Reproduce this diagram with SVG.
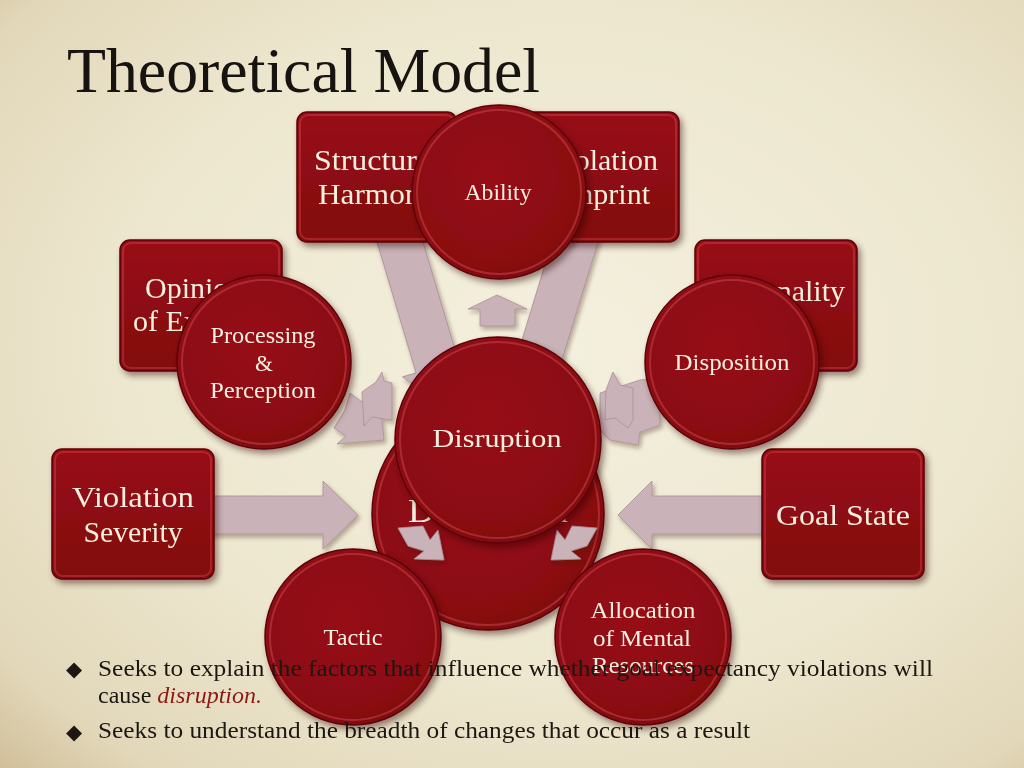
<svg xmlns="http://www.w3.org/2000/svg" width="1024" height="768" viewBox="0 0 1024 768">
<defs>
  <radialGradient id="bg" cx="0.55" cy="0.45" r="0.8">
    <stop offset="0" stop-color="#f4f0de"/>
    <stop offset="0.55" stop-color="#ede7cf"/>
    <stop offset="0.85" stop-color="#e2d7b9"/>
    <stop offset="1" stop-color="#cdb992"/>
  </radialGradient>
  <linearGradient id="boxg" x1="0" y1="0" x2="0" y2="1">
    <stop offset="0" stop-color="#980f15"/>
    <stop offset="1" stop-color="#820a0f"/>
  </linearGradient>
  <radialGradient id="circg" cx="0.45" cy="0.4" r="0.65">
    <stop offset="0" stop-color="#970f15"/>
    <stop offset="0.8" stop-color="#8a0c11"/>
    <stop offset="1" stop-color="#76090d"/>
  </radialGradient>
  <filter id="sh" x="-20%" y="-20%" width="140%" height="140%">
    <feDropShadow dx="3" dy="4" stdDeviation="3" flood-color="#2a1005" flood-opacity="0.45"/>
  </filter>
  <filter id="ash" x="-20%" y="-20%" width="140%" height="140%">
    <feDropShadow dx="2" dy="3" stdDeviation="2" flood-color="#3a2010" flood-opacity="0.35"/>
  </filter>
</defs>
<style>
  .box { fill: url(#boxg); stroke: #5e0508; stroke-width: 1.5; }
  .boxhi { fill: none; stroke: #c8383d; stroke-opacity: 0.55; stroke-width: 2; }
  .circ { fill: url(#circg); stroke: #5e0508; stroke-width: 1.5; }
  .circhi { fill: none; stroke: #cf4a4f; stroke-opacity: 0.5; stroke-width: 2; }
  .arrow { fill: #c9b3b8; stroke: #a98f96; stroke-width: 0.8; }
  .lbl { font-family: "Liberation Serif", "DejaVu Serif", serif; fill: #f6efe0; text-anchor: middle; }
  .big { font-size: 30px; }
  .sm { font-size: 23px; }
  .body { font-family: "Liberation Serif", "DejaVu Serif", serif; font-size: 24px; fill: #1c1712; }
</style>
<rect x="0" y="0" width="1024" height="768" fill="url(#bg)"/>
<text x="67" y="92" font-family="Liberation Serif, DejaVu Serif, serif" font-size="64" fill="#161310" textLength="473" lengthAdjust="spacingAndGlyphs">Theoretical Model</text>

<g id="connectors" filter="url(#ash)">
  <polygon class="arrow" points="205,496 323,496 323,481 358,515 323,549 323,534 205,534"/>
  <polygon class="arrow" points="770,496 652,496 652,481 618,515 652,549 652,534 770,534"/>
  <polygon class="arrow" transform="translate(400,242) rotate(73.4)" points="-30,-22 130,-22 130,-36 178,0 130,36 130,22 -30,22"/>
  <polygon class="arrow" transform="translate(575,242) rotate(107)" points="-30,-22 130,-22 130,-36 178,0 130,36 130,22 -30,22"/>
  <polygon class="arrow" points="497,295 527,309 515,309 515,326 480,326 480,309 468,309"/>
  <polygon class="arrow" points="350,393 366,405 382,420 384,440 337,444 346,436 334,428 345,410"/>
  <polygon class="arrow" points="362,392 376,382 382,372 384,381 392,383 392,420 372,417 364,426"/>
  <polygon class="arrow" points="600,393 640,380 660,378 660,425 640,432 638,445 610,440 600,430"/>
  <polygon class="arrow" points="606,390 613,372 620,385 633,388 633,420 628,428 615,418 605,420"/>
</g>

<g id="structural-harmony" filter="url(#sh)">
  <rect class="box" x="297" y="112" width="160" height="130" rx="10"/>
  <rect class="boxhi" x="300" y="115" width="154" height="124" rx="8"/>
  <text class="lbl big" x="377" y="170" textLength="126" lengthAdjust="spacingAndGlyphs">Structural</text>
  <text class="lbl big" x="377" y="204" textLength="118" lengthAdjust="spacingAndGlyphs">Harmony</text>
</g>
<g id="violation-imprint" filter="url(#sh)">
  <rect class="box" x="519" y="112" width="160" height="130" rx="10"/>
  <rect class="boxhi" x="522" y="115" width="154" height="124" rx="8"/>
  <text class="lbl big" x="658" y="170" style="text-anchor:end">Violation</text>
  <text class="lbl big" x="650" y="204" style="text-anchor:end">Imprint</text>
</g>
<g id="opinion" filter="url(#sh)">
  <rect class="box" x="120" y="240" width="162" height="131" rx="10"/>
  <rect class="boxhi" x="123" y="243" width="156" height="125" rx="8"/>
  <text class="lbl big" x="145" y="298" style="text-anchor:start">Opinion</text>
  <text class="lbl big" x="133" y="331" style="text-anchor:start">of Expecter</text>
</g>
<g id="personality" filter="url(#sh)">
  <rect class="box" x="695" y="240" width="162" height="131" rx="10"/>
  <rect class="boxhi" x="698" y="243" width="156" height="125" rx="8"/>
  <text class="lbl big" x="845" y="301" style="text-anchor:end">Personality</text>
</g>
<g id="violation-severity" filter="url(#sh)">
  <rect class="box" x="52" y="449" width="162" height="130" rx="10"/>
  <rect class="boxhi" x="55" y="452" width="156" height="124" rx="8"/>
  <text class="lbl big" x="133" y="507" textLength="122" lengthAdjust="spacingAndGlyphs">Violation</text>
  <text class="lbl big" x="133" y="542" textLength="99" lengthAdjust="spacingAndGlyphs">Severity</text>
</g>
<g id="goal-state" filter="url(#sh)">
  <rect class="box" x="762" y="449" width="162" height="130" rx="10"/>
  <rect class="boxhi" x="765" y="452" width="156" height="124" rx="8"/>
  <text class="lbl big" x="843" y="525" textLength="134" lengthAdjust="spacingAndGlyphs">Goal State</text>
</g>

<g id="disruption-back" filter="url(#sh)">
  <circle class="circ" cx="488" cy="514" r="116"/>
  <circle class="circhi" cx="488" cy="514" r="111"/>
  <text class="lbl" x="488" y="522" font-size="34" textLength="160" lengthAdjust="spacingAndGlyphs">Disruption</text>
</g>
<g id="out-arrows" filter="url(#ash)">
  <polygon class="arrow" points="398,528 423,526 430,540 438,530 444,560 414,559 424,551 408,546"/>
  <polygon class="arrow" points="597,528 572,526 565,540 557,530 551,560 581,559 571,551 587,546"/>
</g>
<g id="tactic" filter="url(#sh)">
  <circle class="circ" cx="353" cy="637" r="88"/>
  <circle class="circhi" cx="353" cy="637" r="83"/>
  <text class="lbl sm" x="353" y="645" textLength="59" lengthAdjust="spacingAndGlyphs">Tactic</text>
</g>
<g id="allocation" filter="url(#sh)">
  <circle class="circ" cx="643" cy="637" r="88"/>
  <circle class="circhi" cx="643" cy="637" r="83"/>
  <text class="lbl sm" x="643" y="618" textLength="105" lengthAdjust="spacingAndGlyphs">Allocation</text>
  <text class="lbl sm" x="642" y="646" textLength="98" lengthAdjust="spacingAndGlyphs">of Mental</text>
  <text class="lbl sm" x="643" y="673" textLength="102" lengthAdjust="spacingAndGlyphs">Resources</text>
</g>
<g id="ability" filter="url(#sh)">
  <circle class="circ" cx="499" cy="192" r="87"/>
  <circle class="circhi" cx="499" cy="192" r="82"/>
  <text class="lbl sm" x="498" y="200" textLength="67" lengthAdjust="spacingAndGlyphs">Ability</text>
</g>
<g id="processing-perception" filter="url(#sh)">
  <circle class="circ" cx="264" cy="362" r="87"/>
  <circle class="circhi" cx="264" cy="362" r="82"/>
  <text class="lbl sm" x="263" y="343" textLength="105" lengthAdjust="spacingAndGlyphs">Processing</text>
  <text class="lbl sm" x="264" y="371">&amp;</text>
  <text class="lbl sm" x="263" y="398" textLength="106" lengthAdjust="spacingAndGlyphs">Perception</text>
</g>
<g id="disposition" filter="url(#sh)">
  <circle class="circ" cx="732" cy="362" r="87"/>
  <circle class="circhi" cx="732" cy="362" r="82"/>
  <text class="lbl sm" x="732" y="370" textLength="115" lengthAdjust="spacingAndGlyphs">Disposition</text>
</g>
<g id="disruption" filter="url(#sh)">
  <circle class="circ" cx="498" cy="440" r="103"/>
  <circle class="circhi" cx="498" cy="440" r="98"/>
  <text class="lbl" x="497" y="447" font-size="26" textLength="129" lengthAdjust="spacingAndGlyphs">Disruption</text>
</g>

<g id="bullets">
  <text x="66" y="676" font-family="DejaVu Sans, sans-serif" font-size="21" fill="#1c1712">◆</text>
  <text class="body" x="98" y="676" textLength="835" lengthAdjust="spacingAndGlyphs">Seeks to explain the factors that influence whether goal expectancy violations will</text>
  <text class="body" x="98" y="703">cause <tspan font-style="italic" fill="#8b1a16">disruption.</tspan></text>
  <text x="66" y="739" font-family="DejaVu Sans, sans-serif" font-size="21" fill="#1c1712">◆</text>
  <text class="body" x="98" y="738" textLength="652" lengthAdjust="spacingAndGlyphs">Seeks to understand the breadth of changes that occur as a result</text>
</g>
</svg>
